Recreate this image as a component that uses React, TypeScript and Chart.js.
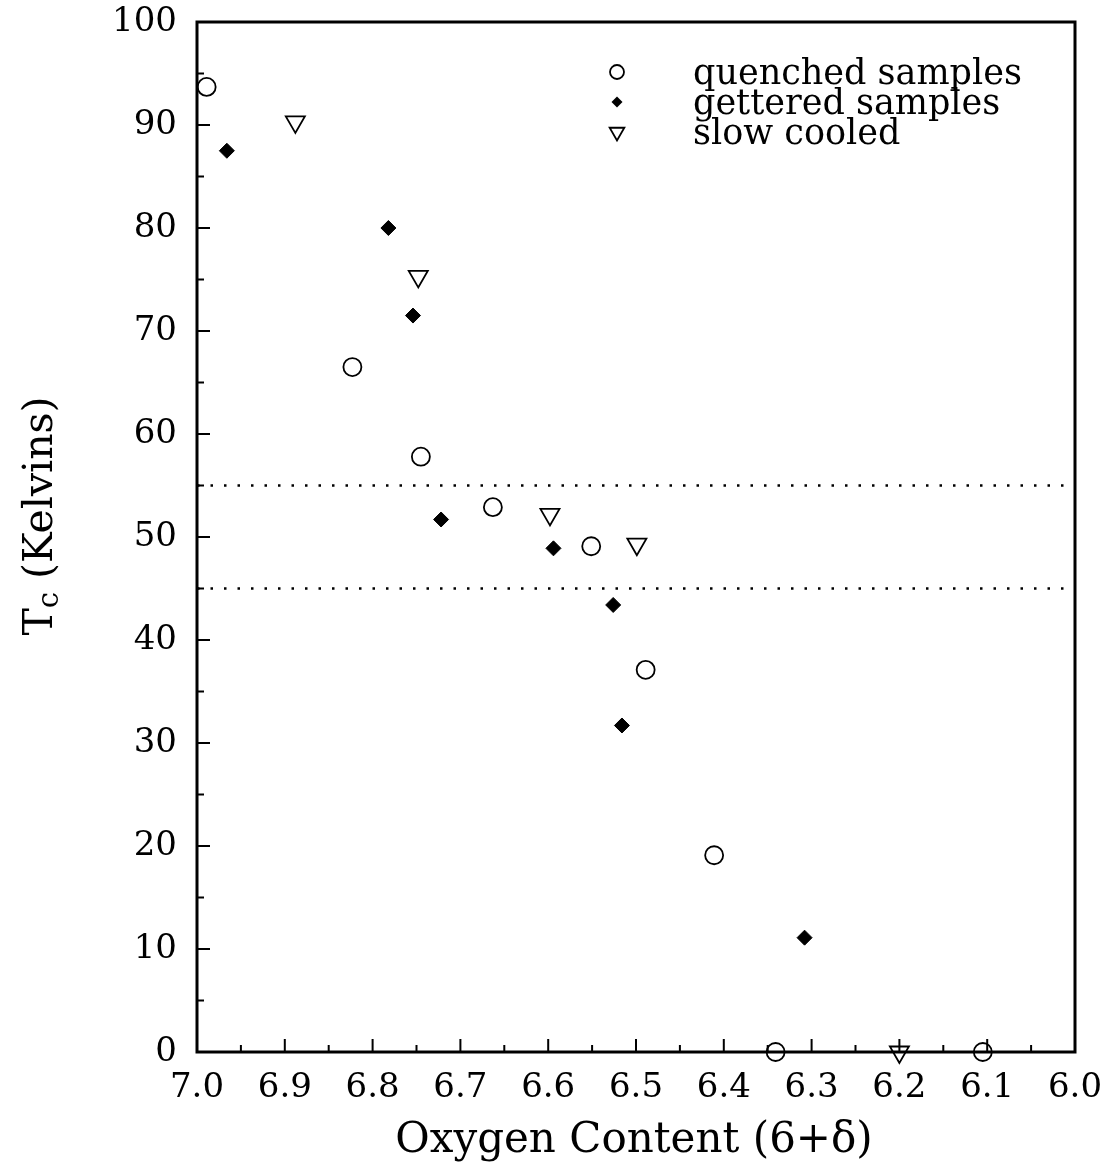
import React, { useEffect, useRef } from 'react';
import { Chart, registerables } from 'chart.js';

Chart.register(...registerables);

// ---- data ----
const quenchedX = [6.989, 6.823, 6.745, 6.663, 6.551, 6.489, 6.411, 6.341, 6.105];
const quenchedY = [93.7, 66.5, 57.8, 52.9, 49.1, 37.1, 19.1, 0, 0];
const getteredX = [6.966, 6.782, 6.754, 6.722, 6.594, 6.526, 6.516, 6.308];
const getteredY = [87.5, 80.0, 71.5, 51.7, 48.9, 43.4, 31.7, 11.1];
const slowX = [6.888, 6.748, 6.598, 6.499, 6.2];
const slowY = [90.3, 75.3, 52.2, 49.3, 0];
const bandLevels = [55, 45];
const xMin = 6.0;
const xMax = 7.0;
const yMin = 0;
const yMax = 100;
const xStep = 0.1;
const yStep = 10;
const legendLabels = ['quenched samples', 'gettered samples', 'slow cooled'];
const xTitle = 'Oxygen Content (6+\u03B4)';
const yTitleMain = 'T';
const yTitleSub = 'c';
const yTitleRest = ' (Kelvins)';

const SERIF = "'DejaVu Serif', 'Liberation Serif', serif";

const framePlugin = {
  id: 'frameAndTicks',
  beforeDatasetsDraw(chart: any) {
    const { ctx, chartArea: a, scales } = chart;
    const x = scales.x;
    const y = scales.y;
    ctx.save();
    ctx.strokeStyle = '#000';
    ctx.lineWidth = 3;
    ctx.strokeRect(a.left, a.top, a.right - a.left, a.bottom - a.top);
    ctx.lineWidth = 2;
    ctx.beginPath();
    const ny = Math.round((yMax - yMin) / (yStep / 2));
    for (let i = 0; i <= ny; i++) {
      const v = yMin + (i * yStep) / 2;
      const py = y.getPixelForValue(v);
      const len = i % 2 === 0 ? 13 : 7;
      ctx.moveTo(a.left, py);
      ctx.lineTo(a.left + len, py);
    }
    const nx = Math.round((xMax - xMin) / (xStep / 2));
    for (let i = 0; i <= nx; i++) {
      const v = xMin + (i * xStep) / 2;
      const px = x.getPixelForValue(v);
      const len = i % 2 === 0 ? 13 : 7;
      ctx.moveTo(px, a.bottom);
      ctx.lineTo(px, a.bottom - len);
    }
    ctx.stroke();
    ctx.restore();
  },
  afterDraw(chart: any) {
    const { ctx, chartArea: a } = chart;
    ctx.save();
    ctx.fillStyle = '#000';
    ctx.strokeStyle = '#000';
    // legend
    const symX = a.left + 420;
    const textX = a.left + 496;
    const rows = [a.top + 50, a.top + 80, a.top + 110];
    ctx.lineWidth = 1.8;
    // circle
    ctx.beginPath();
    ctx.arc(symX, rows[0], 7, 0, Math.PI * 2);
    ctx.stroke();
    // diamond
    ctx.beginPath();
    ctx.moveTo(symX - 5.5, rows[1]);
    ctx.lineTo(symX, rows[1] - 5.5);
    ctx.lineTo(symX + 5.5, rows[1]);
    ctx.lineTo(symX, rows[1] + 5.5);
    ctx.closePath();
    ctx.fill();
    // down triangle
    const r = 8.5;
    ctx.beginPath();
    ctx.moveTo(symX - r * 0.866, rows[2] - r / 2);
    ctx.lineTo(symX + r * 0.866, rows[2] - r / 2);
    ctx.lineTo(symX, rows[2] + r);
    ctx.closePath();
    ctx.stroke();
    ctx.font = `35px ${SERIF}`;
    ctx.textAlign = 'left';
    ctx.textBaseline = 'middle';
    legendLabels.forEach((t, i) => ctx.fillText(t, textX, rows[i] + 3));

    // x title
    ctx.font = `42px ${SERIF}`;
    ctx.textAlign = 'center';
    ctx.textBaseline = 'alphabetic';
    ctx.fillText(xTitle, (a.left + a.right) / 2 - 2, a.bottom + 100);

    // y title with subscript
    const bigFont = `41px ${SERIF}`;
    const smallFont = `29px ${SERIF}`;
    ctx.font = bigFont;
    const wT = ctx.measureText(yTitleMain).width;
    const wR = ctx.measureText(yTitleRest).width;
    ctx.font = smallFont;
    const wC = ctx.measureText(yTitleSub).width;
    const total = wT + wC + wR;
    ctx.translate(52, 516);
    ctx.rotate(-Math.PI / 2);
    ctx.textAlign = 'left';
    let cx = -total / 2;
    ctx.font = bigFont;
    ctx.fillText(yTitleMain, cx, 0);
    cx += wT;
    ctx.font = smallFont;
    ctx.fillText(yTitleSub, cx, 6);
    cx += wC;
    ctx.font = bigFont;
    ctx.fillText(yTitleRest, cx, 0);
    ctx.restore();
  },
};

export default function App() {
  const ref = useRef<HTMLCanvasElement | null>(null);
  useEffect(() => {
    if (!ref.current) return;
    Chart.defaults.color = '#000';
    const toPts = (xs: number[], ys: number[]) => xs.map((x, i) => ({ x, y: ys[i] }));
    const chart = new Chart(ref.current, {
      type: 'scatter',
      data: {
        datasets: [
          {
            label: legendLabels[0],
            data: toPts(quenchedX, quenchedY),
            pointStyle: 'circle',
            pointRadius: 9,
            borderColor: '#000',
            backgroundColor: 'rgba(0,0,0,0)',
            borderWidth: 1.8,
            clip: false,
          },
          {
            label: legendLabels[1],
            data: toPts(getteredX, getteredY),
            pointStyle: 'rectRot',
            pointRadius: 7.5,
            borderColor: '#000',
            backgroundColor: '#000',
            borderWidth: 1,
            clip: false,
          },
          {
            label: legendLabels[2],
            data: toPts(slowX, slowY),
            pointStyle: 'triangle',
            rotation: 180,
            pointRadius: 11,
            borderColor: '#000',
            backgroundColor: 'rgba(0,0,0,0)',
            borderWidth: 1.8,
            clip: false,
          } as any,
          ...bandLevels.map((lv) => ({
            type: 'line' as const,
            label: 'band ' + lv,
            data: [
              { x: xMax, y: lv },
              { x: xMin, y: lv },
            ],
            borderColor: '#000',
            borderWidth: 2.5,
            borderDash: [2.5, 11],
            pointRadius: 0,
            fill: false,
          })),
        ],
      },
      options: {
        responsive: false,
        animation: false,
        events: [],
        layout: { padding: { left: 0, right: 37, top: 22, bottom: 0 } },
        plugins: { legend: { display: false }, tooltip: { enabled: false }, title: { display: false } },
        scales: {
          x: {
            type: 'linear',
            reverse: true,
            min: xMin,
            max: xMax,
            border: { display: false },
            grid: { display: false, drawTicks: false },
            ticks: {
              stepSize: xStep,
              padding: 16,
              font: { family: SERIF, size: 34 },
              color: '#000',
              callback: (v: any) => Number(v).toFixed(1),
            },
            afterFit: (s: any) => {
              s.height = 114;
              s.paddingLeft = 0;
              s.paddingRight = 0;
            },
          },
          y: {
            type: 'linear',
            min: yMin,
            max: yMax,
            border: { display: false },
            grid: { display: false, drawTicks: false },
            ticks: {
              stepSize: yStep,
              padding: 20,
              font: { family: SERIF, size: 34 },
              color: '#000',
            },
            afterFit: (s: any) => {
              s.width = 197;
              s.paddingTop = 0;
              s.paddingBottom = 0;
            },
          },
        },
      },
      plugins: [framePlugin],
    } as any);
    return () => chart.destroy();
  }, []);
  return (
    <div style={{ position: 'fixed', left: 0, top: 0, width: 1112, height: 1166, background: '#fff' }}>
      <canvas ref={ref} width={1112} height={1166} style={{ display: 'block' }} />
    </div>
  );
}
